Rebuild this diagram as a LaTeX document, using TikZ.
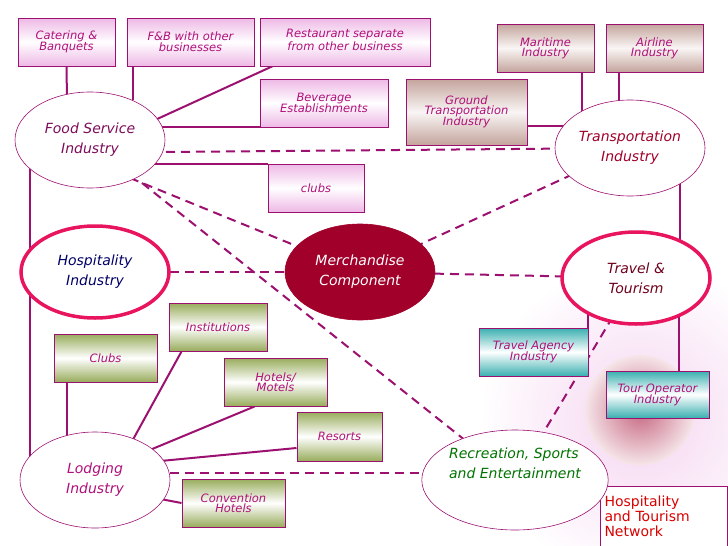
\documentclass[tikz,border=0pt]{standalone}
\usepackage{fontspec}
\setmainfont{DejaVu Sans}
\usetikzlibrary{shapes.geometric}
\definecolor{ln}{HTML}{9C1070}
\definecolor{tx}{HTML}{B0107A}
\definecolor{pk}{HTML}{EEB8E6}
\definecolor{tn}{HTML}{C4A49C}
\definecolor{gr}{HTML}{98AC5C}
\definecolor{tl}{HTML}{3AAFB0}
\definecolor{hot}{HTML}{E8145E}
\definecolor{mer}{HTML}{A0002A}
\pgfdeclarelayer{back}
\pgfdeclarelayer{bg}
\pgfsetlayers{back,bg,main}
\begin{document}
\begin{tikzpicture}[x=1pt,y=-1pt,
  bx/.style={draw=ln,line width=1pt,inner sep=0pt,font=\fontsize{11.5}{11}\selectfont\itshape,text=tx,align=center},
  pb/.style={bx,top color=pk,bottom color=pk,middle color=white},
  tb/.style={bx,top color=tn,bottom color=tn,middle color=white!90!tn},
  gb/.style={bx,top color=gr,bottom color=gr,middle color=white},
  cb/.style={bx,top color=tl,bottom color=tl,middle color=white},
  el/.style={ellipse,draw=ln,line width=0.6pt,fill=white,minimum width=150pt,minimum height=96pt,inner sep=0pt,align=center,font=\fontsize{14}{20}\selectfont\itshape},
  th/.style={el,draw=hot,line width=3.5pt},
  sl/.style={ln,line width=2pt},
  ds/.style={ln,line width=2pt,dash pattern=on 9pt off 6pt}]
\useasboundingbox (0,0) rectangle (728,546);
\begin{pgfonlayer}{back}
\shade[inner color=pk!60,outer color=white] (640,420) circle (160);
\shade[inner color=mer!60,outer color=mer!10] (640,410) ellipse (55 and 55);
\end{pgfonlayer}
% boxes
\node[pb,minimum width=97pt,minimum height=48pt] (cat) at (66.5,42) {Catering \&\\Banquets};
\node[pb,minimum width=127pt,minimum height=48pt] (fb) at (190.5,42) {F\&B with other\\businesses};
\node[pb,minimum width=170pt,minimum height=48pt] (rest) at (345,42) {\raisebox{5pt}{\shortstack{Restaurant separate\\[-1pt]from other business}}};
\node[pb,minimum width=128pt,minimum height=48pt] (bev) at (324,103) {Beverage\\[-1pt]Establishments};
\node[pb,minimum width=96pt,minimum height=48pt] (clb) at (316,188) {clubs};
\node[tb,minimum width=97pt,minimum height=48pt] (mar) at (545.5,48) {Maritime\\[-1pt]Industry};
\node[tb,minimum width=97pt,minimum height=48pt] (air) at (654.5,48) {Airline\\[-1pt]Industry};
\node[tb,minimum width=121pt,minimum height=66pt] (gnd) at (466.5,112) {Ground\\[-1pt]Transportation\\[-1pt]Industry};
\node[gb,minimum width=98pt,minimum height=48pt] (ins) at (218,327) {Institutions};
\node[gb,minimum width=103pt,minimum height=48pt] (lcl) at (105.5,358) {Clubs};
\node[gb,minimum width=103pt,minimum height=48pt] (hot) at (275.5,382) {Hotels/\\[-1pt]Motels};
\node[gb,minimum width=85pt,minimum height=49pt] (res) at (339.5,436.5) {Resorts};
\node[gb,minimum width=103pt,minimum height=48pt] (con) at (233.5,503) {Convention\\[-1pt]Hotels};
\node[cb,minimum width=109pt,minimum height=48pt] (tra) at (533.5,352) {Travel Agency\\[-1pt]Industry};
\node[cb,minimum width=103pt,minimum height=47pt] (tou) at (657.5,394.5) {Tour Operator\\[-1pt]Industry};
\node[draw=ln,line width=1pt,fill=white,minimum width=127pt,minimum height=60pt,anchor=north west,inner sep=4pt,align=left,text=red!85!black,font=\fontsize{14}{15}\selectfont,text width=118pt] (net) at (599.5,485.5) {Hospitality\\and Tourism\\Network};
% ellipses
\node[el,text=ln!80!black] (fs) at (90,140) {Food Service\\Industry};
\node[el,text=mer] (tr) at (630,148) {Transportation\\Industry};
\node[th,text=blue!40!black,minimum width=148pt,minimum height=92pt] (hos) at (95,272) {Hospitality\\Industry};
\node[el,draw=mer,fill=mer,text=white] (mc) at (360,272) {Merchandise\\Component};
\node[th,text=mer!70!black,minimum width=148pt,minimum height=92pt] (tt) at (636,278) {Travel \&\\Tourism};
\node[el,text=tx] (lod) at (95,480) {Lodging\\Industry};
\node[el,text=green!45!black,minimum height=100pt,align=left] (rec) at (515,480) {Recreation, Sports\\and Entertainment\\[14pt]};
% connectors
\begin{pgfonlayer}{bg}
\draw[sl] (cat.south) -- (67,100);
\draw[sl] (fb.south -| 133,0) -- (133,100);
\draw[sl] (273,66) -- (155,120);
\draw[sl] (bev.west |- 0,127) -- (150,127);
\draw[sl] (clb.west |- 0,164) -- (150,164);
\draw[sl] (30,150) -- (30,470);
\draw[sl] (mar.south -| 582,0) -- (582,115);
\draw[sl] (air.south -| 619,0) -- (619,105);
\draw[sl] (gnd.east |- 0,126) -- (570,126);
\draw[sl] (680,180) -- (680,240);
\draw[sl] (588,310) -- (tra.north -| 588,0);
\draw[sl] (679,310) -- (tou.north -| 679,0);
\draw[sl] (lcl.south -| 67,0) -- (67,445);
\draw[sl] (ins.south west) ++(13,0) -- (130,445);
\draw[sl] (hot.south west) ++(31,0) -- (145,452);
\draw[sl] (res.west |- 0,448) -- (150,462);
\draw[sl] (150,497) -- (con.west);
\draw[ds] (166,152) -- (tr.center);
\draw[ds] (130,178) -- (mc.center);
\draw[ds] (142,183) -- (rec.center);
\draw[ds] (hos.center) -- (mc.center);
\draw[ds] (mc.center) -- (tt.center);
\draw[ds] (mc.center) -- (tr.center);
\draw[ds] (lod.center |- 0,473) -- (rec.center |- 0,473);
\draw[ds] (tt.center) -- (rec.center);
\end{pgfonlayer}
\end{tikzpicture}
\end{document}
